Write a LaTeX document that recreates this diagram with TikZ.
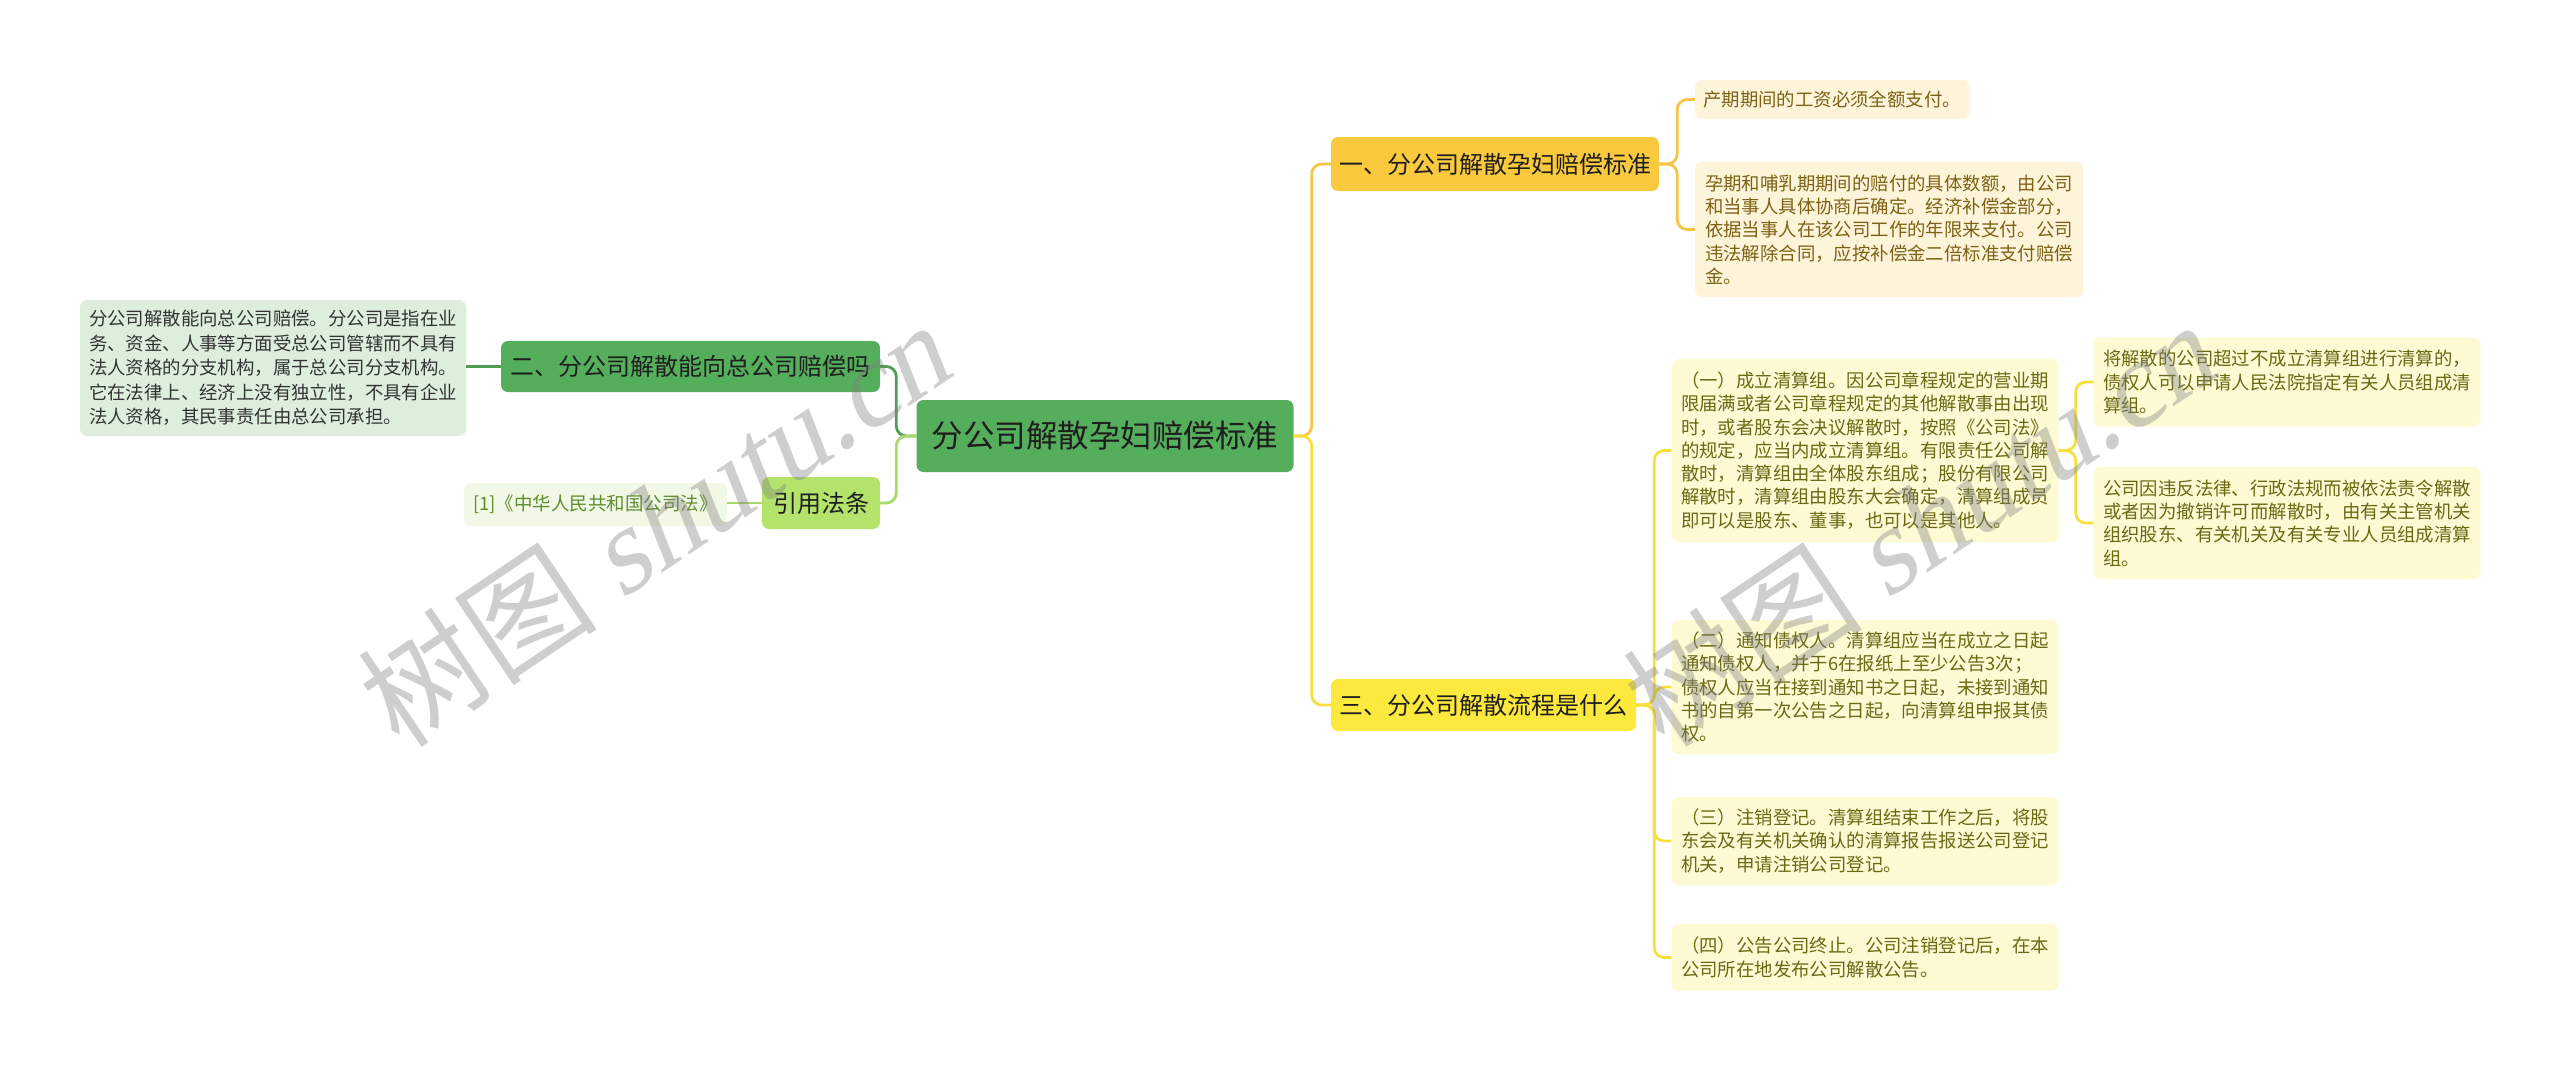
\documentclass[tikz,border=0pt]{standalone}
\usepackage{fontspec}
\setmainfont{Noto Sans CJK SC}
\newfontfamily\wmserif[FakeSlant=0.22]{Liberation Serif}
\definecolor{rootg}{HTML}{55AE5B}
\definecolor{darkg}{HTML}{4F9E55}
\definecolor{lightg}{HTML}{B3E36A}
\definecolor{lineg}{HTML}{A8DA6B}
\definecolor{leafg}{HTML}{DDEEDD}
\definecolor{refg}{HTML}{F1F9E6}
\definecolor{reftext}{HTML}{5E8C2E}
\definecolor{amber}{HTML}{FBC93E}
\definecolor{amberline}{HTML}{F4C548}
\definecolor{amberleaf}{HTML}{FEF4D9}
\definecolor{ambertext}{HTML}{7D6215}
\definecolor{yel}{HTML}{FDE83D}
\definecolor{yelline}{HTML}{F7E03E}
\definecolor{yelleaf}{HTML}{FEFAD4}
\definecolor{yeltext}{HTML}{6B6914}
\definecolor{darktext}{HTML}{1E1E1E}
\definecolor{leaftext}{HTML}{333333}
\begin{document}
\begin{tikzpicture}[x=1pt,y=-1pt,
  box/.style={rounded corners=7pt, inner sep=0pt, align=left},
  topic/.style={box, text=darktext, font=\fontsize{24}{28}\selectfont},
  rleaf/.style={box, font=\fontsize{18.4}{23.3}\selectfont},
  conn/.style={line width=2.8pt, rounded corners=10pt}]
\useasboundingbox (0,0) rectangle (2560,1071);
\fill[white] (0,0) rectangle (2560,1071);

% root
\node[box, fill=rootg, text=darktext, minimum width=377, minimum height=72,
  font=\fontsize{31.5}{36}\selectfont] (root) at (1105,436) {分公司解散孕妇赔偿标准};

% left side
\node[topic, fill=rootg, minimum width=379, minimum height=51] (er) at (690.5,366.5) {二、分公司解散能向总公司赔偿吗};
\node[box, fill=leafg, text=leaftext, minimum width=386, minimum height=136,
  font=\fontsize{18.4}{24.4}\selectfont] (ll) at (273,368)
  {分公司解散能向总公司赔偿。分公司是指在业\\务、资金、人事等方面受总公司管辖而不具有\\法人资格的分支机构，属于总公司分支机构。\\它在法律上、经济上没有独立性，不具有企业\\法人资格，其民事责任由总公司承担。};
\node[topic, fill=lightg, minimum width=118, minimum height=52] (yin) at (821,503) {引用法条};
\node[box, fill=refg, text=reftext, minimum width=263, minimum height=43,
  font=\fontsize{18.5}{22}\selectfont] (ref) at (595.5,504.5) {[1]《中华人民共和国公司法》};

% right side, branch one
\node[topic, fill=amber, minimum width=328, minimum height=54] (yi) at (1495,164) {一、分公司解散孕妇赔偿标准};
\node[rleaf, fill=amberleaf, text=ambertext, minimum width=274, minimum height=39] (la) at (1832,99.5) {产期期间的工资必须全额支付。};
\node[rleaf, fill=amberleaf, text=ambertext, minimum width=388, minimum height=135] (lb) at (1889,229.5)
  {孕期和哺乳期期间的赔付的具体数额，由公司\\和当事人具体协商后确定。经济补偿金部分，\\依据当事人在该公司工作的年限来支付。公司\\违法解除合同，应按补偿金二倍标准支付赔偿\\金。};

% branch three
\node[topic, fill=yel, minimum width=305, minimum height=52] (san) at (1483.5,705) {三、分公司解散流程是什么};
\node[rleaf, fill=yelleaf, text=yeltext, minimum width=387, minimum height=183] (s1) at (1865,450.5)
  {（一）成立清算组。因公司章程规定的营业期\\限届满或者公司章程规定的其他解散事由出现\\时，或者股东会决议解散时，按照《公司法》\\的规定，应当内成立清算组。有限责任公司解\\散时，清算组由全体股东组成；股份有限公司\\解散时，清算组由股东大会确定，清算组成员\\即可以是股东、董事，也可以是其他人。};
\node[rleaf, fill=yelleaf, text=yeltext, minimum width=387, minimum height=89] (s1a) at (2287,382)
  {将解散的公司超过不成立清算组进行清算的，\\债权人可以申请人民法院指定有关人员组成清\\算组。};
\node[rleaf, fill=yelleaf, text=yeltext, minimum width=387, minimum height=112] (s1b) at (2287,523)
  {公司因违反法律、行政法规而被依法责令解散\\或者因为撤销许可而解散时，由有关主管机关\\组织股东、有关机关及有关专业人员组成清算\\组。};
\node[rleaf, fill=yelleaf, text=yeltext, minimum width=387, minimum height=134] (s2) at (1865,687)
  {（二）通知债权人。清算组应当在成立之日起\\通知债权人，并于6在报纸上至少公告3次；\\债权人应当在接到通知书之日起，未接到通知\\书的自第一次公告之日起，向清算组申报其债\\权。};
\node[rleaf, fill=yelleaf, text=yeltext, minimum width=387, minimum height=88] (s3) at (1865,841)
  {（三）注销登记。清算组结束工作之后，将股\\东会及有关机关确认的清算报告报送公司登记\\机关，申请注销公司登记。};
\node[rleaf, fill=yelleaf, text=yeltext, minimum width=387, minimum height=67] (s4) at (1865,957.5)
  {（四）公告公司终止。公司注销登记后，在本\\公司所在地发布公司解散公告。};

% connectors
\draw[conn, darkg] (root.west) -- ++(-20,0) |- (er.east);
\draw[conn, lineg] (root.west) -- ++(-20,0) |- (yin.east);
\draw[conn, darkg] (er.west) -- (ll.east |- er.west);
\draw[conn, lineg] (yin.west) -- (ref.east |- yin.west);
\draw[conn, amberline] (root.east) -- ++(18,0) |- (yi.west);
\draw[conn, yelline] (root.east) -- ++(18,0) |- (san.west);
\draw[conn, amberline] (yi.east) -- ++(18,0) |- (la.west);
\draw[conn, amberline] (yi.east) -- ++(18,0) |- (lb.west);
\foreach \c in {s1,s2,s3,s4}
  \draw[conn, yelline] (san.east) -- ++(18,0) |- (\c.west);
\draw[conn, yelline] (s1.east) -- ++(17,0) |- (s1a.west);
\draw[conn, yelline] (s1.east) -- ++(17,0) |- (s1b.west);

% watermarks
\foreach \wx in {653,1918}
  \node[rotate=34, text=gray, text opacity=0.38, inner sep=0pt,
    font=\fontsize{120}{120}\selectfont] (wm\wx) at (\wx,525) {树图 {\wmserif shutu.cn}};
\end{tikzpicture}
\end{document}
